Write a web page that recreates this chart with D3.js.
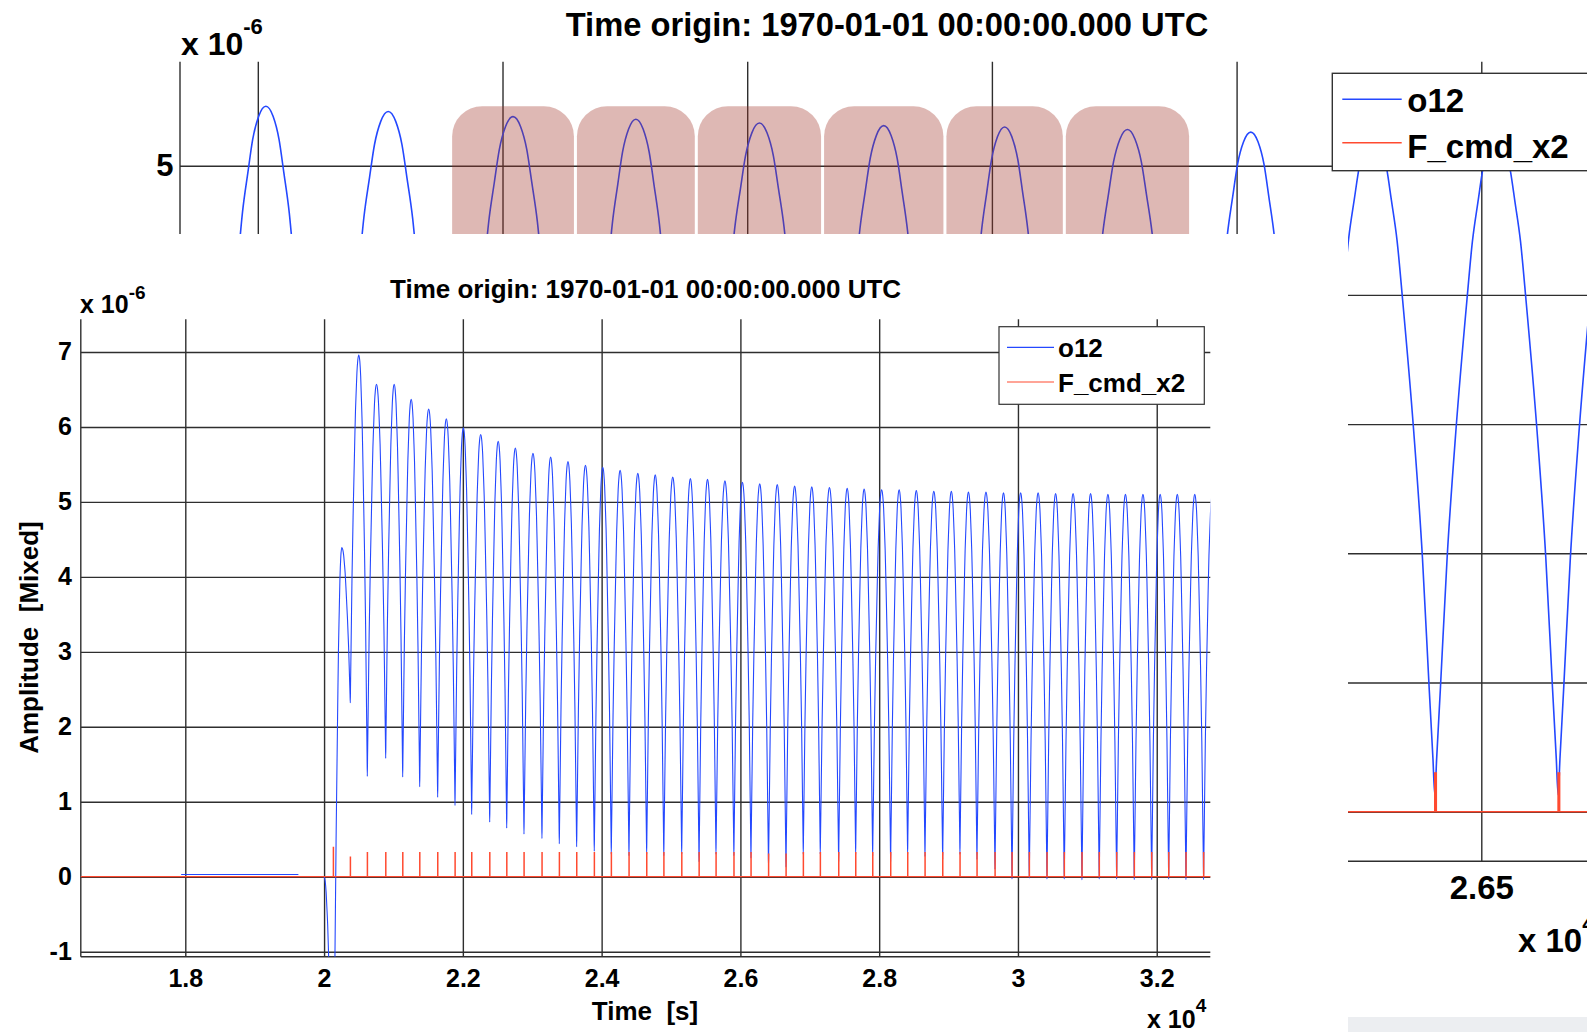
<!DOCTYPE html>
<html>
<head>
<meta charset="utf-8">
<script src="https://cdn.jsdelivr.net/npm/d3@7"></script>
<style>
  body { margin: 0; background: #fff; }
  svg text { font-family: "Liberation Sans", Arial, Helvetica, sans-serif; font-weight: bold; fill: #000; white-space: pre; }
</style>
</head>
<body>
<svg id="chart" width="1587" height="1032"></svg>
<script>
// o12: times [s] of each trough (same instants as the F_cmd_x2 pulses)
const troughTimes = [20133, 20378, 20623, 20888, 21133, 21378, 21637, 21887, 22127, 22387,
  22632, 22881, 23140, 23390, 23640, 23894, 24139, 24394, 24649, 24896,
  25154, 25404, 25648, 25906, 26152, 26405, 26657, 26906, 27151, 27416,
  27661, 27906, 28165, 28410, 28660, 28915, 29164, 29409, 29669, 29914,
  30163, 30418, 30667, 30922, 31171, 31422, 31676, 31927, 32172, 32421, 32675];
// o12 minimum at each trough (x 1e-6)
const troughValues = [-4.0, 2.32, 1.34, 1.58, 1.33, 1.20, 1.06, 0.95, 0.83, 0.73,
  0.65, 0.57, 0.51, 0.44, 0.40, 0.34, 0.30, 0.28, 0.30, 0.28,
  0.30, 0.20, 0.30, 0.28, 0.25, 0.13, 0.13, 0.30, 0.30, 0.20,
  0.30, 0.28, 0.20, 0.30, 0.27, 0.23, 0.30, 0.23, 0.10, -0.03,
  -0.02, -0.03, -0.03, -0.04, -0.03, -0.03, -0.04, -0.04, -0.03, -0.04, -0.04];
// o12 maximum of the cycle following each trough (x 1e-6)
const peakValues = [4.39, 6.96, 6.57, 6.57, 6.37, 6.24, 6.11, 5.99, 5.90, 5.81,
  5.72, 5.65, 5.60, 5.54, 5.49, 5.46, 5.42, 5.38, 5.36, 5.33,
  5.31, 5.30, 5.28, 5.26, 5.24, 5.23, 5.21, 5.20, 5.19, 5.18,
  5.17, 5.16, 5.16, 5.15, 5.14, 5.14, 5.13, 5.13, 5.12, 5.12,
  5.12, 5.11, 5.11, 5.11, 5.10, 5.10, 5.10, 5.10, 5.10, 5.10, 5.10];
// o12 before the oscillation: flat part, then the point where it restarts
const o12Flat = [[17940, 0.03], [19630, 0.03]];
const o12Start = [20000, 0];
// shape of half a cycle: [fraction from trough, fraction of swing]
const cycleProfile = [[0, 0], [0.03, 0.055], [0.09, 0.16], [0.2, 0.36], [0.34, 0.55], [0.52, 0.75],
  [0.61, 0.84], [0.7, 0.9], [0.78, 0.95], [0.88, 0.985], [1, 1]];
// F_cmd_x2 pulse heights at each trough time (x 1e-6)
const cmdHeights = [0.39, 0.26, 0.32, 0.32, 0.32, 0.32, 0.32, 0.32, 0.32, 0.32,
  0.32, 0.32, 0.32, 0.32, 0.32, 0.32, 0.32, 0.32, 0.32, 0.32,
  0.32, 0.32, 0.32, 0.32, 0.32, 0.30, 0.30, 0.32, 0.32, 0.32,
  0.32, 0.32, 0.32, 0.32, 0.32, 0.32, 0.32, 0.32, 0.32, 0.32,
  0.32, 0.32, 0.32, 0.32, 0.32, 0.32, 0.32, 0.32, 0.32, 0.32, 0.32];
// cycles shaded in the zoomed view
const highlightCycles = [17, 18, 19, 20, 21, 22];
const highlightTop = 5.46;

const xTicks = [18000, 20000, 22000, 24000, 26000, 28000, 30000, 32000];
const yTicks = [-1, 0, 1, 2, 3, 4, 5, 6, 7];
const bgXTicks = [24000, 24500, 25000, 25500, 26000, 26500];
const bgYTicks = [0, 1, 2, 3, 4, 5];
const seriesNames = ["o12", "F_cmd_x2"];
const titleText = "Time origin: 1970-01-01 00:00:00.000 UTC";

const blue = "#2448ff", red = "#ff4a30", gridColor = "#2e2e2e";

// ---- build the series ----
function addArch(pts, ta, va, tb, vb, up) {
  // up: trough -> crest, else crest -> trough
  let prof = up ? cycleProfile.slice(1) : cycleProfile.slice().reverse().slice(1);
  prof.forEach(p => {
    if (up) pts.push({t: ta + p[0] * (tb - ta), v: va + p[1] * (vb - va)});
    else pts.push({t: tb - p[0] * (tb - ta), v: vb + p[1] * (va - vb)});
  });
}

let o12 = o12Flat.map(p => ({t: p[0], v: p[1]}));
o12.push(null);
o12.push({t: o12Start[0], v: o12Start[1]});
addArch(o12, o12Start[0], o12Start[1], troughTimes[0], troughValues[0], false);
troughTimes.forEach((t, i) => {
  let next = i + 1 < troughTimes.length ? troughTimes[i + 1] : t + (t - troughTimes[i - 1]);
  let crest = (t + next) / 2;
  addArch(o12, t, troughValues[i], crest, peakValues[i], true);
  if (i + 1 < troughTimes.length) addArch(o12, crest, peakValues[i], next, troughValues[i + 1], false);
});

let cmd = [{t: 15000, v: 0}];
troughTimes.forEach((t, i) => {
  cmd.push({t: t, v: 0}, {t: t, v: cmdHeights[i]}, {t: t + 3, v: cmdHeights[i]}, {t: t + 3, v: 0});
});
cmd.push({t: 34000, v: 0});

const svg = d3.select("#chart");
svg.append("rect").attr("width", 1587).attr("height", 1032).attr("fill", "#fff");
const defs = svg.append("defs");

function styleAxis(g, size) {
  g.select(".domain").remove();
  g.attr("font-family", null).attr("font-size", size);
  g.selectAll(".tick line").attr("stroke", gridColor).attr("stroke-width", 1.4);
}
const fmt = d => String(+(d).toFixed(4));

// ================= zoomed figure behind =================
const bLeft = 180, bRight = 1587, bTop = 61.7, bBottom = 861.3;
const bx = d3.scaleLinear().domain([23841, 26716]).range([bLeft, bRight]);
const by = d3.scaleLinear().domain([-0.384, 5.805]).range([bBottom, bTop]);
defs.append("clipPath").attr("id", "bgclip").append("rect")
  .attr("x", bLeft).attr("y", bTop).attr("width", bRight - bLeft).attr("height", bBottom - bTop);

const bg = svg.append("g");
bg.append("g").attr("transform", `translate(0,${bBottom})`)
  .call(d3.axisBottom(bx).tickValues(bgXTicks).tickSize(-(bBottom - bTop)).tickPadding(14)
    .tickFormat(d => fmt(d / 1e4)))
  .call(g => styleAxis(g, 33));
bg.append("g").attr("transform", `translate(${bLeft},0)`)
  .call(d3.axisLeft(by).tickValues(bgYTicks).tickSize(-(bRight - bLeft)).tickPadding(6.5).tickFormat(fmt))
  .call(g => styleAxis(g, 31));
bg.append("line").attr("x1", bLeft).attr("x2", bLeft).attr("y1", bTop).attr("y2", bBottom)
  .attr("stroke", gridColor).attr("stroke-width", 1.4);
bg.append("line").attr("x1", bLeft).attr("x2", bRight).attr("y1", bBottom).attr("y2", bBottom)
  .attr("stroke", gridColor).attr("stroke-width", 1.4);

const bLine = d3.line().defined(d => d).x(d => bx(d.t)).y(d => by(d.v)).curve(d3.curveMonotoneX);
const bCmd = d3.line().x(d => bx(d.t)).y(d => by(d.v));
const bPlot = bg.append("g").attr("clip-path", "url(#bgclip)");
bPlot.append("path").attr("d", bLine(o12)).attr("fill", "none").attr("stroke", blue).attr("stroke-width", 1.6);
bPlot.append("path").attr("d", bCmd(cmd)).attr("fill", "none").attr("stroke", red).attr("stroke-width", 1.6);
bPlot.selectAll(".hl").data(highlightCycles).enter().append("rect")
  .attr("class", "hl")
  .attr("x", k => bx(troughTimes[k]) + 1.5)
  .attr("width", k => bx(troughTimes[k + 1]) - bx(troughTimes[k]) - 3)
  .attr("y", by(highlightTop))
  .attr("height", by(0) - by(highlightTop))
  .attr("rx", 30).attr("ry", 30)
  .attr("fill", "#a13429").attr("fill-opacity", 0.35);

bg.append("text").attr("x", 887).attr("y", 36).attr("text-anchor", "middle").attr("font-size", 32.7).text(titleText);
bg.append("text").attr("x", 181).attr("y", 55).attr("font-size", 32)
  .text("x 10").append("tspan").attr("dy", -21).attr("font-size", 22).text("-6");
bg.append("text").attr("x", 1518).attr("y", 952).attr("font-size", 33)
  .text("x 10").append("tspan").attr("dy", -21).attr("font-size", 22).text("4");

const bLeg = bg.append("g");
bLeg.append("rect").attr("x", 1332.3).attr("y", 73.3).attr("width", 300).attr("height", 97.4)
  .attr("fill", "#fff").attr("stroke", "#333").attr("stroke-width", 1.4);
[blue, red].forEach((c, i) => {
  let yy = [99.3, 142.7][i];
  bLeg.append("line").attr("x1", 1342.3).attr("x2", 1401.7).attr("y1", yy).attr("y2", yy)
    .attr("stroke", c).attr("stroke-width", 1.6);
  bLeg.append("text").attr("x", 1407.3).attr("y", [111.7, 158.3][i]).attr("font-size", 33).text(seriesNames[i]);
});

// ================= main figure window on top =================
svg.append("rect").attr("x", 0).attr("y", 234).attr("width", 1348).attr("height", 798).attr("fill", "#fff");

const mLeft = 80.8, mRight = 1210.3, mTop = 319.3, mBottom = 956.7;
const x = d3.scaleLinear().domain([16494, 32772]).range([mLeft, mRight]);
const y = d3.scaleLinear().domain([-1.067, 7.436]).range([mBottom, mTop]);
defs.append("clipPath").attr("id", "mclip").append("rect")
  .attr("x", mLeft).attr("y", mTop).attr("width", mRight - mLeft).attr("height", mBottom - mTop);

const m = svg.append("g");
m.append("g").attr("transform", `translate(0,${mBottom})`)
  .call(d3.axisBottom(x).tickValues(xTicks).tickSize(-(mBottom - mTop)).tickPadding(12.5)
    .tickFormat(d => fmt(d / 1e4)))
  .call(g => styleAxis(g, 25));
m.append("g").attr("transform", `translate(${mLeft},0)`)
  .call(d3.axisLeft(y).tickValues(yTicks).tickSize(-(mRight - mLeft)).tickPadding(9).tickFormat(fmt))
  .call(g => styleAxis(g, 25));
m.append("line").attr("x1", mLeft).attr("x2", mLeft).attr("y1", mTop).attr("y2", mBottom)
  .attr("stroke", gridColor).attr("stroke-width", 1.4);
m.append("line").attr("x1", mLeft).attr("x2", mRight).attr("y1", mBottom).attr("y2", mBottom)
  .attr("stroke", gridColor).attr("stroke-width", 1.4);

const line = d3.line().defined(d => d).x(d => x(d.t)).y(d => y(d.v)).curve(d3.curveMonotoneX);
const cmdLine = d3.line().x(d => x(d.t)).y(d => y(d.v));
const plot = m.append("g").attr("clip-path", "url(#mclip)");
plot.append("path").attr("d", line(o12)).attr("fill", "none").attr("stroke", blue).attr("stroke-width", 1.1);
plot.append("path").attr("d", cmdLine(cmd)).attr("fill", "none").attr("stroke", red).attr("stroke-width", 1.3);

m.append("text").attr("x", (mLeft + mRight) / 2).attr("y", 298).attr("text-anchor", "middle")
  .attr("font-size", 26).text(titleText);
m.append("text").attr("x", 80).attr("y", 312.7).attr("font-size", 25)
  .text("x 10").append("tspan").attr("dy", -14).attr("font-size", 19).text("-6");
m.append("text").attr("x", 645).attr("y", 1020).attr("text-anchor", "middle").attr("font-size", 26).text("Time  [s]");
m.append("text").attr("x", 1147).attr("y", 1028).attr("font-size", 25)
  .text("x 10").append("tspan").attr("dy", -16).attr("font-size", 19).text("4");
m.append("text").attr("transform", "translate(38,637.5) rotate(-90)").attr("text-anchor", "middle")
  .attr("font-size", 26).text("Amplitude  [Mixed]");

const leg = m.append("g");
leg.append("rect").attr("x", 999).attr("y", 326.7).attr("width", 205.3).attr("height", 77.6)
  .attr("fill", "#fff").attr("stroke", "#333").attr("stroke-width", 1.2);
[blue, red].forEach((c, i) => {
  let yy = [347.3, 382][i];
  leg.append("line").attr("x1", 1007).attr("x2", 1054).attr("y1", yy).attr("y2", yy)
    .attr("stroke", c).attr("stroke-width", 1.2);
  leg.append("text").attr("x", 1058).attr("y", [356.8, 392][i]).attr("font-size", 26).text(seriesNames[i]);
});

// strip at the bottom right of the screen
svg.append("rect").attr("x", 1348).attr("y", 1017).attr("width", 239).attr("height", 15).attr("fill", "#eceef1");
</script>
</body>
</html>
